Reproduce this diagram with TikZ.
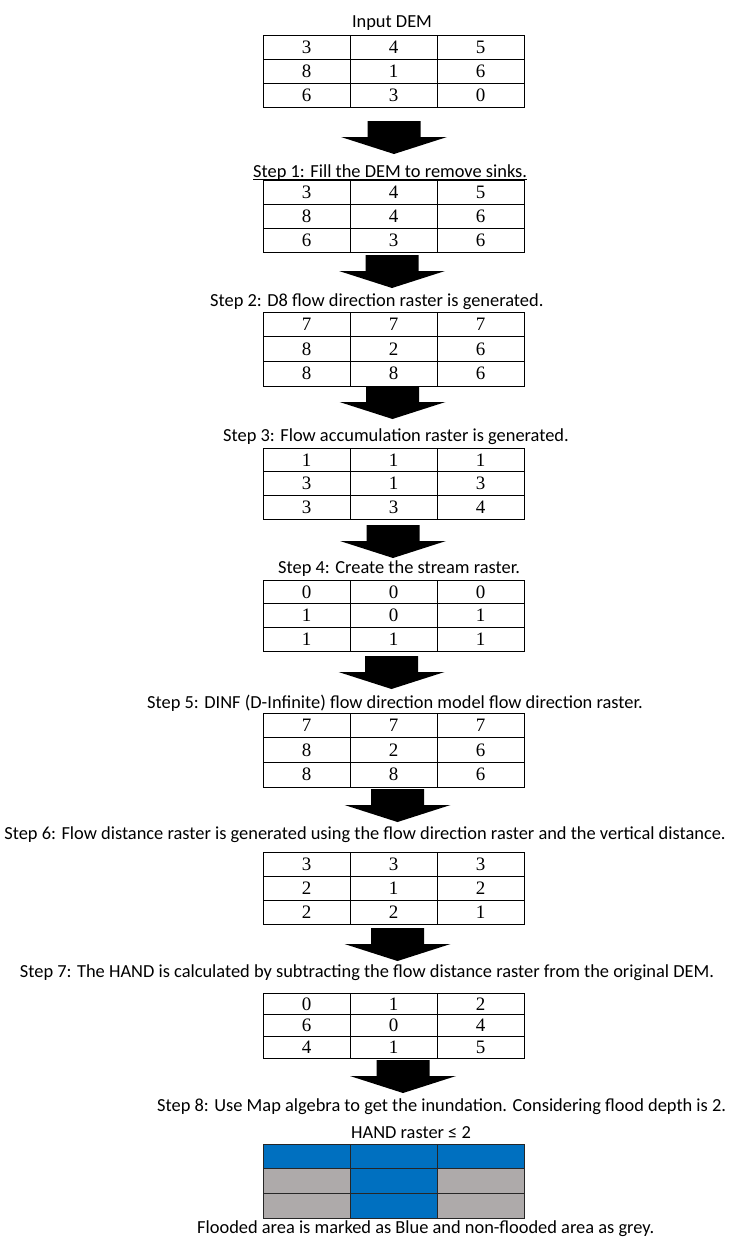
\documentclass[tikz,border=0pt]{standalone}
\usepackage{fontspec}
\setmainfont{Carlito}
\newfontfamily\tablefont{Liberation Serif}
\definecolor{floodblue}{HTML}{0070C0}
\definecolor{drygrey}{HTML}{AEAAAA}

% one 3x3 raster, cells named <name>-<row>-<col>
\newcommand{\rastergrid}[6]{%
  \foreach \rowvals [count=\r] in {{#4},{#5},{#6}} {
    \foreach \v [count=\c] in \rowvals {
      \node [cell, minimum height=#3pt] (#1-\r-\c) at ({263+87*(\c-0.5)}, {#2+#3*(\r-0.5)}) {\v};
    }
  }%
}
% block arrow pointing down, top centre at (#1,#2)
\newcommand{\bigarrow}[2]{%
  \fill [shift={(#1,#2)}] (-26.5,0) -- (26.5,0) -- (26.5,16) -- (53,16) -- (0,33) -- (-53,16) -- (-26.5,16) -- cycle;%
}

\begin{document}
\begin{tikzpicture}[x=1pt, y=-1pt,
  cell/.style={rectangle, draw, line width=0.9pt, minimum width=87pt, inner sep=0pt, font=\tablefont\fontsize{19}{19}\selectfont},
  steptext/.style={inner sep=0pt, font=\fontsize{18.4}{21}\selectfont}]

\useasboundingbox (0,0) rectangle (729,1237);

\node [steptext, anchor=base] (title) at (392,27) {Input DEM};
\rastergrid{dem}{35}{24.3}{3,4,5}{8,1,6}{6,3,0}
\bigarrow{394}{121}

\node [steptext, anchor=base west] (step1) at (253,177) {Step 1: Fill the DEM to remove sinks.};
\draw [line width=0.9pt] ([yshift=-2pt]step1.base west) -- ([yshift=-2pt]step1.base east);
\rastergrid{filled}{180}{24.3}{3,4,5}{8,4,6}{6,3,6}
\bigarrow{392}{255}

\node [steptext, anchor=base west] (step2) at (210,306) {Step 2: D8 flow direction raster is generated.};
\rastergrid{dir}{312}{24.7}{7,7,7}{8,2,6}{8,8,6}
\bigarrow{392.5}{386}

\node [steptext, anchor=base west] (step3) at (223,441) {Step 3: Flow accumulation raster is generated.};
\rastergrid{acc}{448}{23.7}{1,1,1}{3,1,3}{3,3,4}
\bigarrow{393}{525}

\node [steptext, anchor=base west] (step4) at (278,573) {Step 4: Create the stream raster.};
\rastergrid{stream}{580}{23.7}{0,0,0}{1,0,1}{1,1,1}
\bigarrow{391.5}{656}

\node [steptext, anchor=base] (step5) at (395,708) {Step 5: DINF (D-Infinite) flow direction model flow direction raster.};
\rastergrid{dinf}{713}{24.7}{7,7,7}{8,2,6}{8,8,6}
\bigarrow{397.5}{789}

\node [steptext, anchor=base] (step6) at (365,839) {Step 6: Flow distance raster is generated using the flow direction raster and the vertical distance.};
\rastergrid{dist}{852}{24}{3,3,3}{2,1,2}{2,2,1}
\bigarrow{397.5}{928}

\node [steptext, anchor=base] (step7) at (367,977) {Step 7: The HAND is calculated by subtracting the flow distance raster from the original DEM.};
\rastergrid{hand}{993}{21.7}{0,1,2}{6,0,4}{4,1,5}
\bigarrow{403}{1060}

\node [steptext, anchor=base west] (step8) at (157,1111) {Step 8: Use Map algebra to get the inundation. Considering flood depth is 2.};
\node [steptext, anchor=base west] (threshold) at (351,1138) {HAND raster ≤ 2};
\foreach \rowfill [count=\r] in {{floodblue,floodblue,floodblue},{drygrey,floodblue,drygrey},{drygrey,floodblue,drygrey}} {
  \foreach \f [count=\c] in \rowfill {
    \node [cell, draw=black!85, fill=\f, minimum height=24.7pt] (flood-\r-\c) at ({263+87*(\c-0.5)}, {1144+24.7*(\r-0.5)}) {};
  }
}
\node [steptext, anchor=base west] (legend) at (197,1233) {Flooded area is marked as Blue and non-flooded area as grey.};

\end{tikzpicture}
\end{document}
